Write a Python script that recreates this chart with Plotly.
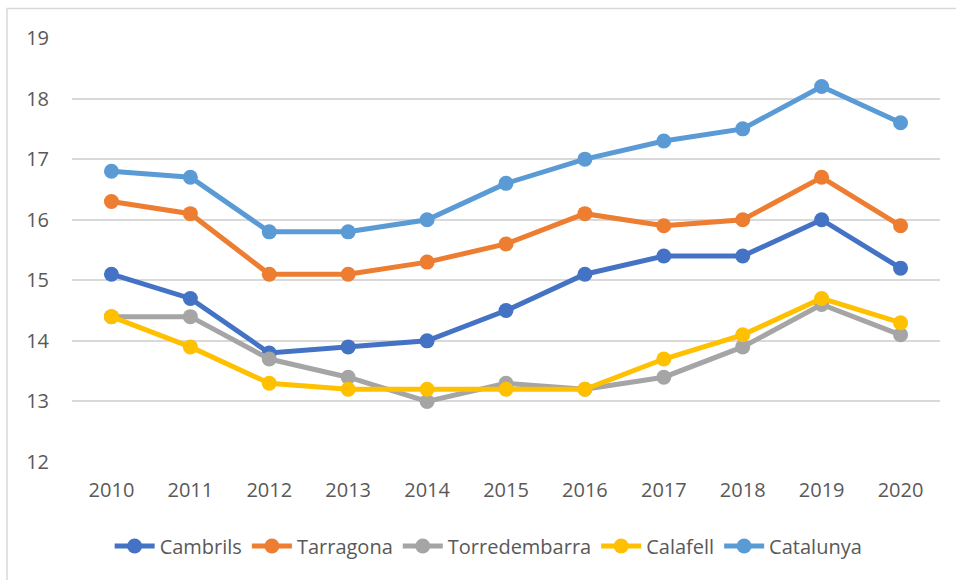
import plotly.graph_objects as go

years = ["2010", "2011", "2012", "2013", "2014", "2015", "2016", "2017", "2018", "2019", "2020"]
cambrils = [15.1, 14.7, 13.8, 13.9, 14.0, 14.5, 15.1, 15.4, 15.4, 16.0, 15.2]
tarragona = [16.3, 16.1, 15.1, 15.1, 15.3, 15.6, 16.1, 15.9, 16.0, 16.7, 15.9]
torredembarra = [14.4, 14.4, 13.7, 13.4, 13.0, 13.3, 13.2, 13.4, 13.9, 14.6, 14.1]
calafell = [14.4, 13.9, 13.3, 13.2, 13.2, 13.2, 13.2, 13.7, 14.1, 14.7, 14.3]
catalunya = [16.8, 16.7, 15.8, 15.8, 16.0, 16.6, 17.0, 17.3, 17.5, 18.2, 17.6]

series = [
    ("Cambrils", cambrils, "#4472C4"),
    ("Tarragona", tarragona, "#ED7D31"),
    ("Torredembarra", torredembarra, "#A5A5A5"),
    ("Calafell", calafell, "#FFC000"),
    ("Catalunya", catalunya, "#5B9BD5"),
]

fig = go.Figure()
for name, vals, col in series:
    fig.add_trace(go.Scatter(
        x=years, y=vals, name=name, mode="lines+markers",
        line=dict(color=col, width=5),
        marker=dict(color=col, size=15),
    ))

W, H = 956, 580
ml, mr, mt, mb = 72, 16, 38, 118
pw, ph = W - ml - mr, H - mt - mb

fnt = "Open Sans, Noto Sans, sans-serif"
fig.update_layout(
    width=W, height=H,
    margin=dict(l=ml, r=mr, t=mt, b=mb),
    paper_bgcolor="white", plot_bgcolor="white",
    font=dict(family=fnt, size=20, color="#595959"),
    xaxis=dict(type="category", range=[-0.5, 10.5], showgrid=False, zeroline=False,
               showline=False, ticks="", ticklabelstandoff=14,
               tickfont=dict(family=fnt, size=20, color="#595959")),
    yaxis=dict(range=[12, 19], dtick=1, showgrid=True, gridcolor="#D9D9D9", gridwidth=1.5,
               zeroline=False, showline=False, ticks="", ticklabelstandoff=22,
               tickfont=dict(family=fnt, size=20, color="#595959")),
    legend=dict(orientation="h", x=0.48, xanchor="center", y=-(546 - (H - mb)) / ph,
                yanchor="middle", font=dict(family=fnt, size=20, color="#595959"),
                itemwidth=40, tracegroupgap=0),
    showlegend=True,
)

fig.add_shape(type="rect", xref="paper", yref="paper",
              x0=(7 - ml) / pw, x1=(965 - ml) / pw,
              y0=-(590 - mt - ph) / ph, y1=1 + (mt - 8.5) / ph,
              line=dict(color="#D9D9D9", width=1.5), fillcolor="rgba(0,0,0,0)", layer="below")

fig.write_html("out.html", config={"displayModeBar": False},
               post_script="document.body.style.margin='0';document.body.style.overflow='hidden';")
